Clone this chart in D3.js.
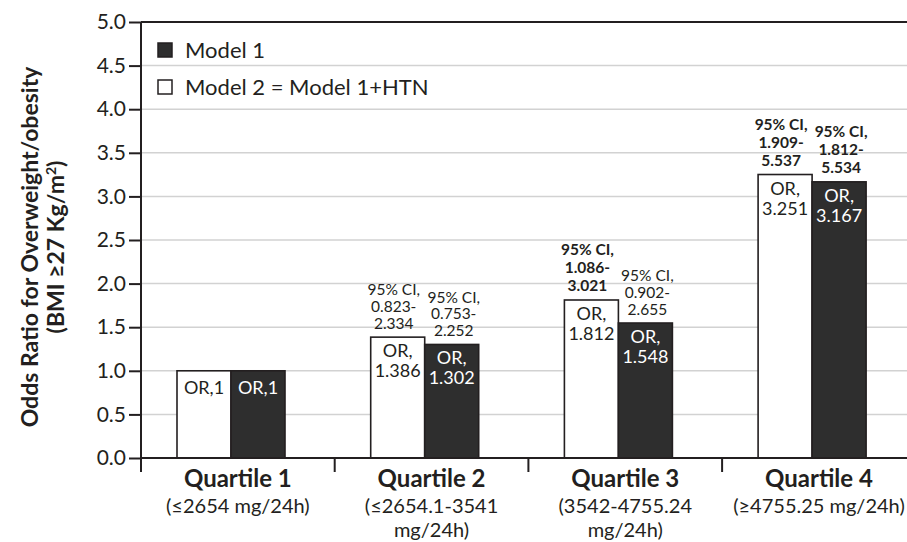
<!DOCTYPE html>
<html>
<head>
<meta charset="utf-8">
<script src="https://cdn.jsdelivr.net/npm/d3@7"></script>
<style>
  html, body { margin: 0; padding: 0; background: #fff; }
  svg { display: block; font-family: Lato, "Open Sans", sans-serif; }
</style>
</head>
<body>
<svg id="chart" width="907" height="542"></svg>
<script>
// Quartiles of 24-hour urinary sodium excretion
const categories = ["Quartile 1", "Quartile 2", "Quartile 3", "Quartile 4"];
const rangeLabels = [
  ["(≤2654 mg/24h)"],
  ["(≤2654.1-3541", "mg/24h)"],
  ["(3542-4755.24", "mg/24h)"],
  ["(≥4755.25 mg/24h)"]
];

// Bars in each group: Model 2 (open) on the left, Model 1 (filled) on the right
const models = ["Model 2", "Model 1"];
const legendLabels = ["Model 1", "Model 2 = Model 1+HTN"];

// Odds ratios
const orModel2 = [1, 1.386, 1.812, 3.251];
const orModel1 = [1, 1.302, 1.548, 3.167];

// 95% confidence intervals (reference category has none)
const ciModel2 = [null, [0.823, 2.334], [1.086, 3.021], [1.909, 5.537]];
const ciModel1 = [null, [0.753, 2.252], [0.902, 2.655], [1.812, 5.534]];

const yTicks = [0, 0.5, 1, 1.5, 2, 2.5, 3, 3.5, 4, 4.5, 5];

const ink = "#231f20";
const darkFill = "#2e2e2e";

const svg = d3.select("#chart");

const margin = { left: 141, top: 22, bottom: 458 };
const bandW = 193.7;

const x = d3.scaleBand()
  .domain(categories)
  .range([margin.left, margin.left + bandW * categories.length])
  .paddingInner(0).paddingOuter(0);

const xm = d3.scaleBand()
  .domain(models)
  .range([36, 144]);

const y = d3.scaleLinear().domain([0, 5]).range([margin.bottom, margin.top]);

// gridlines
svg.append("g")
  .selectAll("line")
  .data(yTicks.filter(t => t > 0 && t < 5))
  .join("line")
  .attr("x1", margin.left).attr("x2", 907)
  .attr("y1", d => y(d)).attr("y2", d => y(d))
  .attr("stroke", "#d2d2d2").attr("stroke-width", 1.5);

// top rule
svg.append("line")
  .attr("x1", margin.left).attr("x2", 907)
  .attr("y1", y(5)).attr("y2", y(5))
  .attr("stroke", ink).attr("stroke-width", 2);

// y axis
const yAxis = d3.axisLeft(y).tickValues(yTicks).tickFormat(d3.format(".1f")).tickSize(12).tickPadding(3);
const gy = svg.append("g").attr("transform", `translate(${margin.left},0)`).call(yAxis);
gy.select(".domain").remove();
gy.selectAll(".tick line").attr("stroke", ink).attr("stroke-width", 2);
gy.selectAll(".tick text")
  .attr("fill", ink)
  .style("font-size", "21px")
  .style("font-family", "Lato, sans-serif");
svg.append("line")
  .attr("x1", margin.left).attr("x2", margin.left)
  .attr("y1", y(5)).attr("y2", margin.bottom + 14)
  .attr("stroke", ink).attr("stroke-width", 2);

// bars
const groups = svg.append("g")
  .selectAll("g")
  .data(categories.map((c, i) => ({
    cat: c,
    bars: [
      { model: "Model 2", or: orModel2[i], ci: ciModel2[i], i },
      { model: "Model 1", or: orModel1[i], ci: ciModel1[i], i }
    ]
  })))
  .join("g")
  .attr("transform", d => `translate(${x(d.cat)},0)`);

const bar = groups.selectAll("g.bar")
  .data(d => d.bars)
  .join("g").attr("class", "bar");

bar.append("rect")
  .attr("x", d => xm(d.model))
  .attr("width", xm.bandwidth())
  .attr("y", d => y(d.or))
  .attr("height", d => y(0) - y(d.or))
  .attr("fill", d => d.model === "Model 1" ? darkFill : "#fff")
  .attr("stroke", ink)
  .attr("stroke-width", 1.6);

// OR labels inside the bars
bar.each(function (d) {
  const g = d3.select(this);
  const cx = xm(d.model) + xm.bandwidth() / 2;
  const top = y(d.or);
  const color = d.model === "Model 1" ? "#fff" : ink;
  const lines = d.ci ? ["OR,", d3.format(".3f")(d.or)] : ["OR," + d.or];
  g.append("text")
    .attr("text-anchor", "middle")
    .attr("fill", color)
    .style("font-size", "18px")
    .selectAll("tspan")
    .data(lines)
    .join("tspan")
    .attr("x", cx)
    .attr("y", (t, k) => top + (d.ci ? 20 : 23) + k * 20)
    .text(t => t);

  // confidence interval above the bar; bold when the interval excludes 1.
  // The two labels of a pair are nudged apart so they do not run together.
  if (d.ci) {
    const sig = d.ci[0] > 1;
    const step = sig ? 18 : 16.7;
    const nudge = d.model === "Model 2" ? -4 : 2;
    const ciLines = ["95% CI,", d3.format(".3f")(d.ci[0]) + "-", d3.format(".3f")(d.ci[1])];
    g.append("text")
      .attr("text-anchor", "middle")
      .attr("fill", ink)
      .style("font-size", "15.5px")
      .style("font-weight", sig ? 700 : 400)
      .selectAll("tspan")
      .data(ciLines)
      .join("tspan")
      .attr("x", cx + nudge)
      .attr("y", (t, k) => top - 8.5 - (2 - k) * step)
      .text(t => t);
  }
});

// x axis
svg.append("line")
  .attr("x1", margin.left).attr("x2", 907)
  .attr("y1", y(0)).attr("y2", y(0))
  .attr("stroke", ink).attr("stroke-width", 2);
svg.append("g")
  .selectAll("line")
  .data(categories.slice(1))
  .join("line")
  .attr("x1", d => x(d)).attr("x2", d => x(d))
  .attr("y1", y(0)).attr("y2", y(0) + 14)
  .attr("stroke", ink).attr("stroke-width", 2);

const xl = svg.append("g")
  .selectAll("g")
  .data(categories)
  .join("g")
  .attr("transform", d => `translate(${x(d) + x.bandwidth() / 2},0)`);
xl.append("text")
  .attr("text-anchor", "middle")
  .attr("y", 487)
  .attr("fill", ink)
  .style("font-size", "24px")
  .style("font-weight", 700)
  .text(d => d);
xl.append("text")
  .attr("text-anchor", "middle")
  .attr("fill", ink)
  .style("font-size", "20px")
  .selectAll("tspan")
  .data((d, i) => rangeLabels[i])
  .join("tspan")
  .attr("x", 0)
  .attr("y", (t, k) => 513 + k * 24)
  .text(t => t);

// y axis title
const yt = svg.append("text")
  .attr("transform", "translate(0,247) rotate(-90)")
  .attr("text-anchor", "middle")
  .attr("fill", ink)
  .style("font-size", "23px")
  .style("font-weight", 700);
yt.append("tspan").attr("x", 0).attr("y", 38).text("Odds Ratio for Overweight/obesity");
const l2 = yt.append("tspan").attr("x", 0).attr("y", 64);
l2.append("tspan").text("(BMI ≥27 Kg/m");
l2.append("tspan").attr("dy", -8).style("font-size", "14px").text("2");
l2.append("tspan").attr("dy", 8).text(")");

// legend
const legendFill = [darkFill, "#fff"];
const lg = svg.append("g")
  .selectAll("g")
  .data(legendLabels)
  .join("g")
  .attr("transform", (d, i) => `translate(158,${43 + i * 37})`);
lg.append("rect")
  .attr("width", 14).attr("height", 14)
  .attr("fill", (d, i) => legendFill[i])
  .attr("stroke", ink).attr("stroke-width", 1.5);
lg.append("text")
  .attr("x", 27).attr("y", 15)
  .attr("fill", ink)
  .style("font-size", "22px")
  .text(d => d);
</script>
</body>
</html>
